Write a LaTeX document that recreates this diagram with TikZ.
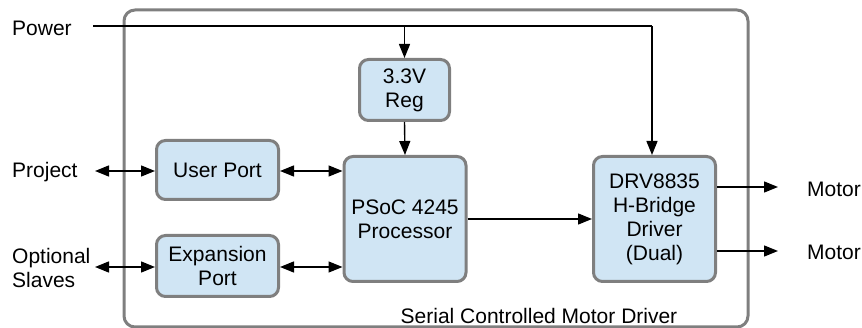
\documentclass[tikz,border=0pt]{standalone}
\usepackage{fontspec}
\setmainfont{Liberation Sans}
\usetikzlibrary{arrows.meta}
\definecolor{boxfill}{HTML}{D0E5F4}
\definecolor{boxline}{HTML}{7F7F7F}
\begin{document}
\begin{tikzpicture}[x=1pt,y=-1pt,
  blk/.style={draw=boxline,fill=boxfill,line width=3pt,rounded corners=9pt,align=center,inner sep=0pt,
    font=\fontsize{21}{24}\selectfont},
  lbl/.style={font=\fontsize{21}{24}\selectfont,align=left,inner sep=0pt},
  conn/.style={line width=1.4pt,-{Triangle[length=14pt,width=11pt]}},
  bconn/.style={line width=1.4pt,{Triangle[length=14pt,width=11pt]}-{Triangle[length=14pt,width=11pt]}}]
\useasboundingbox (0,0) rectangle (862,328);
\draw[boxline,line width=3pt,rounded corners=11pt] (124,10) rectangle (748,327);
\node[lbl] (title) at (539,316) {Serial Controlled Motor Driver};
\node[blk,minimum width=90pt,minimum height=61pt] (reg) at (404.5,90) {3.3V\\Reg};
\node[blk,minimum width=122pt,minimum height=59pt] (user) at (217.5,170) {User Port};
\node[blk,minimum width=122pt,minimum height=61pt] (exp) at (217.5,266) {Expansion\\Port};
\node[blk,minimum width=122pt,minimum height=125pt] (psoc) at (405,219) {PSoC 4245\\Processor};
\node[blk,minimum width=122pt,minimum height=125pt] (drv) at (654.5,219) {DRV8835\\H-Bridge\\Driver\\(Dual)};
\node[lbl,anchor=west] (power) at (12,28) {Power};
\node[lbl,anchor=west] (project) at (12,172) {Project};
\node[lbl,anchor=west] (slaves) at (12,268) {Optional\\Slaves};
\node[lbl,anchor=west] (m1) at (807,189) {Motor};
\node[lbl,anchor=west] (m2) at (807,252) {Motor};
\coordinate (pw) at (93,26);
\coordinate (pwend) at (652,26);
\coordinate (pwreg) at (reg.north |- pw);
\coordinate (m1e) at (778,187);
\coordinate (m2e) at (778,251);
\coordinate (prj) at (95,171);
\coordinate (slv) at (95,267);
\draw[line width=1.4pt] (pw) -- (pwend);
\draw[conn] (pwend) -- (pwend |- drv.north);
\draw[conn] (pwreg) -- (reg.north);
\draw[conn] (reg.south) -- (psoc.north);
\draw[bconn] (prj) -- (user.west |- prj);
\draw[bconn] (user.east |- prj) -- (psoc.west |- prj);
\draw[bconn] (slv) -- (exp.west |- slv);
\draw[bconn] (exp.east |- slv) -- (psoc.west |- slv);
\draw[conn] (psoc.east) -- (drv.west);
\draw[conn] (drv.east |- m1e) -- (m1e);
\draw[conn] (drv.east |- m2e) -- (m2e);
\end{tikzpicture}
\end{document}
